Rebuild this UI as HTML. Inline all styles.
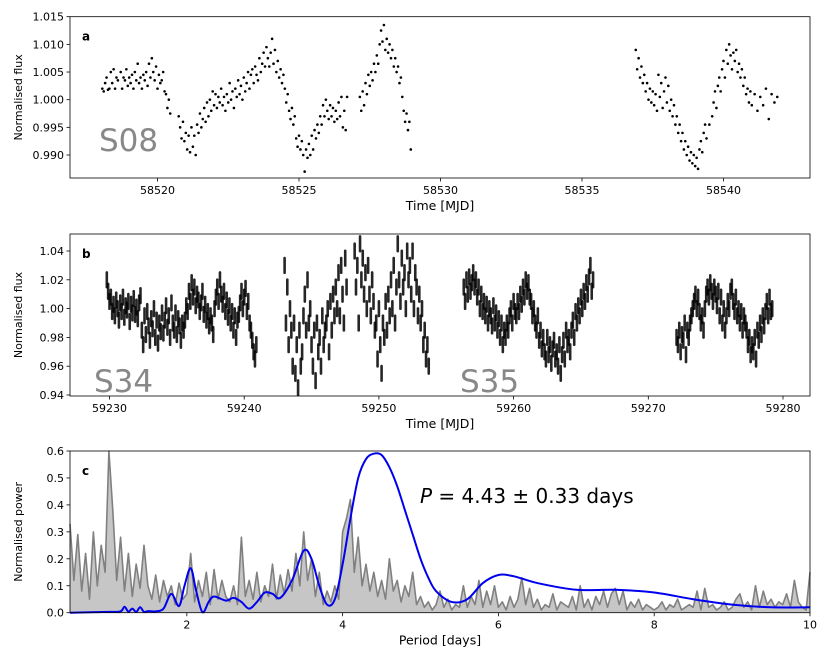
<!DOCTYPE html>
<html><head><meta charset="utf-8">
<style>
body{margin:0;background:#fff;}
svg{display:block;font-family:"DejaVu Sans","Liberation Sans",sans-serif;}
</style></head>
<body>
<svg id="fig" width="830" height="664" viewBox="0 0 830 664">
<defs><clipPath id="clipB"><rect x="70" y="234" width="740" height="162"/></clipPath></defs>
</svg>
<script>
// ---------- Panel a data (time offset from tBaseA, flux) ----------
const tBaseA = 58500;
const fluxA = [[18.05,1.002],[18.1,1.0015],[18.15,1.003],[18.2,1.004],[18.25,1.0018],[18.3,1.002],[18.35,1.005],[18.4,1.003],[18.45,1.0055],[18.5,1.002],[18.55,1.004],[18.6,1.0035],[18.7,1.005],[18.75,1.002],[18.8,1.004],[18.85,1.0035],[18.9,1.0055],[18.95,1.0025],[19.0,1.004],[19.05,1.003],[19.1,1.0045],[19.15,1.002],[19.2,1.005],[19.25,1.0035],[19.3,1.0065],[19.35,1.003],[19.4,1.004],[19.45,1.002],[19.5,1.0045],[19.55,1.0035],[19.6,1.005],[19.65,1.0025],[19.7,1.0065],[19.75,1.004],[19.8,1.0075],[19.85,1.005],[19.9,1.0035],[19.95,1.006],[20.0,1.002],[20.05,1.0045],[20.1,1.003],[20.15,1.0035],[20.2,1.005],[20.25,1.0015],[20.3,1.001],[20.35,0.9985],[20.4,1.000],[20.45,0.9975],
[20.75,0.997],[20.8,0.995],[20.85,0.993],[20.9,0.996],[20.95,0.9925],[21.0,0.994],[21.05,0.991],[21.1,0.9935],[21.15,0.9905],[21.2,0.995],[21.25,0.9915],[21.3,0.9935],[21.35,0.990],[21.4,0.9955],[21.45,0.994],[21.5,0.9975],[21.55,0.995],[21.6,0.9965],
[21.65,0.9985],[21.7,0.996],[21.75,0.9995],[21.8,0.997],[21.85,1.000],[21.9,0.998],[21.95,1.0015],[22.0,0.999],[22.05,1.001],[22.1,0.9985],[22.15,1.0005],[22.2,0.9995],[22.25,1.002],[22.3,0.999],[22.35,1.0005],[22.4,0.998],[22.45,1.001],[22.5,0.9995],[22.55,1.003],[22.6,1.000],[22.65,1.0015],[22.7,0.9985],[22.75,1.002],[22.8,1.0005],[22.85,1.0035],[22.9,1.001],[22.95,1.0025],[23.0,1.000],[23.05,1.004],[23.1,1.0015],[23.15,1.003],[23.2,1.005],[23.25,1.002],[23.3,1.0045],[23.35,1.0055],[23.4,1.003],[23.45,1.006],[23.5,1.0045],[23.55,1.0035],[23.6,1.0075],[23.65,1.005],[23.7,1.0065],[23.75,1.0085],[23.8,1.006],[23.85,1.0095],[23.9,1.0075],[23.95,1.006],[24.0,1.0085],[24.05,1.011],[24.1,1.0065],[24.15,1.009],[24.2,1.005],[24.25,1.007],[24.3,1.004],[24.35,1.0055],[24.4,1.003],[24.45,1.0045],[24.5,1.002],[24.55,0.9995],[24.6,1.001],[24.65,0.998],[24.7,0.9965],[24.75,0.9985],[24.8,0.9955],[24.85,0.997],[24.9,0.993],
[24.95,0.9915],[25.0,0.9935],[25.05,0.991],[25.1,0.9925],[25.15,0.990],[25.2,0.987],[25.25,0.991],[25.3,0.9895],[25.35,0.992],[25.4,0.990],[25.45,0.9935],[25.5,0.991],[25.55,0.9945],[25.6,0.993],[25.65,0.9955],[25.7,0.994],[25.75,0.997],[25.8,0.9955],[25.85,0.999],[25.9,0.997],[25.95,1.000],[26.0,0.998],[26.05,0.9965],[26.1,0.999],[26.15,0.997],[26.2,0.9985],[26.25,0.996],[26.3,0.998],[26.35,0.9965],[26.4,0.9995],[26.45,0.997],[26.5,1.0005],[26.55,0.995],[26.6,0.998],[26.65,0.9945],[26.7,1.0005],
[27.15,1.0005],[27.2,0.998],[27.25,1.0015],[27.3,0.999],[27.35,1.003],[27.4,1.001],[27.45,1.0045],[27.5,1.0025],[27.55,1.005],[27.6,1.0035],[27.65,1.0065],[27.7,1.005],[27.75,1.008],[27.8,1.0065],[27.85,1.010],[27.9,1.0125],[27.95,1.0105],[28.0,1.0135],[28.05,1.009],[28.1,1.011],[28.15,1.0085],[28.2,1.010],[28.25,1.0075],[28.3,1.009],[28.35,1.006],[28.4,1.0075],[28.45,1.005],[28.5,1.006],[28.55,1.003],[28.6,1.004],[28.65,1.0005],[28.7,0.998],[28.75,0.996],[28.8,0.9975],[28.85,0.9945],[28.9,0.996],[28.95,0.991],
[36.9,1.009],[36.95,1.0055],[37.0,1.0075],[37.05,1.004],[37.1,1.006],[37.15,1.003],[37.2,1.0045],[37.25,1.0015],[37.3,1.003],[37.35,1.000],[37.4,1.002],[37.45,0.9995],[37.5,1.0015],[37.55,0.999],[37.6,1.001],[37.65,0.998],[37.7,1.0045],[37.75,1.0005],[37.8,1.003],[37.85,0.9985],[37.9,1.0015],[37.95,1.004],[38.0,0.9995],[38.05,1.0025],[38.1,0.998],[38.15,1.000],[38.2,0.997],[38.25,0.999],[38.3,0.9955],[38.35,0.997],[38.4,0.994],[38.45,0.9955],[38.5,0.9925],[38.55,0.994],[38.6,0.991],[38.65,0.9925],[38.7,0.990],[38.75,0.9915],[38.8,0.989],[38.85,0.9905],[38.9,0.9885],[38.95,0.990],[39.0,0.988],[39.05,0.9895],[39.1,0.9875],[39.15,0.991],[39.2,0.9925],[39.25,0.9905],[39.3,0.994],[39.35,0.9955],[39.4,0.993],[39.5,0.9955],[39.6,0.997],[39.65,0.9995],[39.7,1.0015],[39.75,0.9985],[39.8,1.0025],[39.85,1.004],[39.9,1.0015],[39.95,1.0055],[40.0,1.007],[40.05,1.004],[40.1,1.009],[40.15,1.0065],[40.2,1.010],[40.25,1.008],[40.3,1.0055],[40.35,1.0085],[40.4,1.007],[40.45,1.009],[40.5,1.005],[40.55,1.0065],[40.6,1.004],[40.65,1.0055],[40.7,1.0025],[40.75,1.004],[40.8,1.001],[40.85,1.002],[40.9,0.9995],[40.95,1.0015],[41.0,0.999],[41.1,1.001],[41.2,0.998],[41.3,1.0005],[41.4,0.999],[41.5,1.002],[41.6,0.9965],[41.7,1.001],[41.8,0.9995],[41.9,1.0005]];
const ticksAX = [58520,58525,58530,58535,58540];
const ticksAY = [0.990,0.995,1.000,1.005,1.010,1.015];

// ---------- Panel b data (segments: start time, cadence, fluxes) ----------
const cadenceB = 0.1;
const scatterB = 0.006; // half-width of the point cloud around each sample
const segStartsB = [59229.8, 59243.0, 59248.2, 59256.3, 59272.1];
const segFluxB1 = [1.02,1.012,1.005,1.008,0.998,1.003,0.995,1.006,1.0,0.992,1.004,0.998,1.008,0.994,1.002,0.999,1.005,0.991,1.003,0.997,1.007,0.996,1.001,0.993,1.004,1.009,0.985,0.975,0.995,0.982,0.998,0.988,0.978,0.993,0.986,1.0,0.98,0.992,0.976,0.99,0.984,0.997,0.983,0.992,1.002,0.987,0.995,0.98,1.004,0.99,0.985,0.997,0.982,0.993,0.988,0.978,0.99,0.985,0.992,1.002,0.998,1.012,1.005,1.018,1.008,1.015,1.002,1.01,1.006,0.998,1.004,1.012,0.996,1.003,0.992,0.998,0.988,0.995,0.99,0.982,1.0,1.008,1.015,1.005,1.02,1.01,1.003,1.012,0.998,1.006,0.994,1.002,0.99,0.998,0.985,0.995,0.98,0.992,0.996,1.004,1.012,1.0,1.008,1.014,0.998,1.005,0.99,0.985,0.978,0.97,0.965,0.975];
const segFluxB2 = [1.03,0.99,1.015,0.975,1.0,0.985,0.96,0.99,0.955,0.975,0.945,0.985,0.96,0.97,0.995,1.01,0.985,1.02,0.99,1.0,0.975,0.96,0.985,0.95,0.99,0.97,0.98,0.96,0.995,0.975,0.985,0.99,1.0,0.97,1.005,0.985,1.01,0.995,1.015,1.0,1.025,0.995,1.03,1.01,0.99,1.035,1.015];
const segFluxB3 = [1.04,1.015,1.03,0.99,1.045,1.02,1.035,1.01,1.025,1.0,1.03,1.01,0.995,1.02,1.005,0.985,0.99,0.965,1.0,0.975,0.955,0.99,0.98,1.005,0.985,1.01,0.995,1.02,1.0,1.03,0.99,1.015,1.045,1.02,1.005,1.035,1.015,1.025,1.0,1.04,1.02,1.03,1.01,1.04,1.0,1.025,1.015,0.995,1.01,0.99,1.0,0.975,0.985,0.965,0.975,0.96];
const segFluxB4 = [1.015,1.005,1.02,1.01,1.022,1.012,1.018,1.025,1.015,1.02,1.008,1.015,1.0,1.01,0.998,1.005,0.995,1.003,0.99,1.0,0.995,0.988,1.002,0.99,0.997,0.985,0.993,0.98,0.99,0.975,0.985,0.98,0.99,0.985,0.995,1.0,0.99,1.005,0.998,0.995,1.005,0.998,1.01,1.003,1.015,1.008,1.02,1.012,1.018,1.008,1.005,0.995,1.0,0.99,0.985,0.995,0.978,0.985,0.972,0.98,0.97,0.965,0.98,0.968,0.975,0.962,0.972,0.978,0.965,0.97,0.96,0.975,0.955,0.968,0.978,0.965,0.985,0.975,0.98,0.97,0.985,0.992,0.98,0.998,0.99,1.002,0.995,1.008,1.0,1.012,1.005,1.018,1.01,1.022,1.03,1.012,1.02];
const segFluxB5 = [0.98,0.975,0.985,0.97,0.982,0.978,0.99,0.968,0.985,0.98,0.99,0.995,1.0,1.005,1.01,1.0,1.008,0.998,0.99,0.995,0.985,1.0,1.01,1.015,1.008,1.018,1.012,1.005,1.015,1.01,1.002,1.012,0.995,1.008,0.99,1.0,0.985,0.995,1.005,1.0,1.012,1.015,1.005,0.998,1.008,0.995,1.0,0.99,0.998,0.985,0.995,0.99,0.985,0.975,0.98,0.968,0.975,0.97,0.98,0.965,0.985,0.978,0.99,0.982,0.995,0.988,0.998,1.005,0.995,1.008,0.998,1.0];
const ticksBX = [59230,59240,59250,59260,59270,59280];
const ticksBY = [0.94,0.96,0.98,1.00,1.02,1.04];

// ---------- Panel c data ----------
const grayPeriodStart = 0.5, grayPeriodStep = 0.05;
const grayPower = [.33,.12,.29,.08,.22,.05,.30,.10,.25,.15,.60,
.38,.12,.28,.08,.22,.06,.18,.09,.25,.10,
.05,.14,.04,.12,.06,.10,.03,.11,.05,.07,
.22,.04,.12,.06,.15,.03,.16,.05,.12,.06,
.04,.10,.03,.28,.06,.12,.05,.15,.04,.10,
.06,.18,.05,.14,.07,.16,.08,.22,.10,.30,
.12,.20,.06,.15,.03,.08,.04,.10,.05,.30,
.35,.42,.15,.28,.10,.18,.08,.15,.06,.12,
.05,.20,.08,.12,.04,.10,.06,.15,.03,.06,
.02,.04,.01,.03,.08,.02,.05,.01,.03,.02,
.10,.02,.06,.03,.12,.02,.08,.03,.10,.02,
.04,.01,.06,.02,.05,.13,.03,.09,.02,.05,
.01,.03,.02,.07,.01,.04,.03,.02,.06,.01,
.10,.02,.05,.01,.06,.03,.08,.02,.07,.09,
.03,.08,.01,.04,.02,.05,.01,.03,.02,.01,
.02,.04,.01,.03,.02,.05,.01,.02,.03,.02,
.08,.01,.09,.02,.03,.01,.02,.04,.01,.02,
.05,.07,.02,.04,.01,.10,.02,.08,.03,.05,
.02,.04,.03,.07,.02,.12,.04,.02,.01,.15];
const bluePeriods = [0.5,1.0,1.15,1.2,1.25,1.3,1.35,1.4,1.45,1.5,1.6,1.7,1.8,1.9,1.97,2.05,2.12,2.2,2.28,2.35,2.5,2.6,2.7,2.8,2.9,3.0,3.1,3.2,3.35,3.5,3.6,3.7,3.8,3.9,4.0,4.1,4.2,4.3,4.4,4.5,4.6,4.7,4.8,4.9,5.0,5.1,5.2,5.4,5.6,5.8,6.0,6.2,6.5,7.0,7.5,8.0,8.5,9.0,9.5,10.0];
const bluePower = [0.0,0.003,0.005,0.022,0.004,0.015,0.003,0.02,0.003,0.006,0.005,0.015,0.07,0.025,0.1,0.165,0.08,0.002,0.04,0.06,0.045,0.055,0.04,0.015,0.04,0.075,0.07,0.055,0.12,0.23,0.2,0.1,0.03,0.05,0.18,0.35,0.5,0.57,0.59,0.585,0.54,0.47,0.38,0.29,0.2,0.13,0.08,0.04,0.05,0.11,0.14,0.135,0.11,0.085,0.085,0.075,0.05,0.03,0.02,0.02];
const ticksCX = [2,4,6,8,10];
const ticksCY = [0.0,0.1,0.2,0.3,0.4,0.5,0.6];

// ---------- helpers ----------
const NS = "http://www.w3.org/2000/svg";
const svg = document.getElementById('fig');
function mk(tag, attrs, parent){const e=document.createElementNS(NS,tag);for(const k in attrs)e.setAttribute(k,attrs[k]);(parent||svg).appendChild(e);return e;}
function scale(d0,d1,r0,r1){return v=>r0+(v-d0)/(d1-d0)*(r1-r0);}
const L=70,R=810;

const axA = scale(58520,58540,157.5,723.5);
const ayA = scale(0.990,1.015,155,16.7);
const axB = scale(59230,59280,109.5,783);
const ayB = scale(0.94,1.04,395,251);
const axC = scale(0.5,10,70,810);
const ayC = scale(0,0.6,612.7,451);

function axes(name, top, bot, xt, yt, ax, ay, xfmt, yfmt, xlabel, ylabel, letter){
  const g = mk('g',{});
  
  
  xt.forEach(v=>{const x=ax(v);
    const t=mk('line',{x1:x,x2:x,y1:bot,y2:bot+3.5,stroke:'#000','stroke-width':0.8},g);
    
    
    const l=mk('text',{x:x,y:bot+16,'font-size':11,'text-anchor':'middle',fill:'#000'},g);l.textContent=xfmt(v);
    
    
  });
  yt.forEach(v=>{const y=ay(v);
    const t=mk('line',{x1:L-3.5,x2:L,y1:y,y2:y,stroke:'#000','stroke-width':0.8},g);
    
    
    const l=mk('text',{x:L-6,y:y+4,'font-size':11,'text-anchor':'end',fill:'#000'},g);l.textContent=yfmt(v);
    
    
  });
  const xl=mk('text',{x:440,y:bot+32,'font-size':12.5,'text-anchor':'middle'},g);xl.textContent=xlabel;
  
  
  const cy=(top+bot)/2;
  const yl=mk('text',{x:0,y:0,'font-size':11,'text-anchor':'middle',transform:`translate(22,${cy}) rotate(-90)`},g);yl.textContent=ylabel;
  
  
  const pl=mk('text',{x:82,y:top+24,'font-size':12,'font-weight':'bold'},g);pl.textContent=letter;
  
  
  return g;
}
function frame(top,bot){
  const r=mk('rect',{x:L,y:top,width:R-L,height:bot-top,fill:'none',stroke:'#000','stroke-width':0.8});
  
  
}

// ---------- Panel a ----------
axes('panel-a-axes',16.7,178,ticksAX,ticksAY,axA,ayA,v=>String(v),v=>v.toFixed(3),'Time [MJD]','Normalised flux','a');
const s08=mk('text',{x:99,y:151,'font-size':31,fill:'#888'});s08.textContent='S08';


const gA=mk('g',{fill:'#000'});


fluxA.forEach(p=>{const c=mk('circle',{cx:axA(tBaseA+p[0]),cy:ayA(p[1]),r:1.3},gA);
  
  });
frame(16.7,178);

// ---------- Panel b ----------
axes('panel-b-axes',234,396,ticksBX,ticksBY,axB,ayB,v=>String(v),v=>v.toFixed(2),'Time [MJD]','Normalised flux','b');
const s34=mk('text',{x:94,y:392,'font-size':31,fill:'#888'});s34.textContent='S34';


const s35=mk('text',{x:460,y:392,'font-size':31,fill:'#888'});s35.textContent='S35';


const gB=mk('g',{fill:'#000','clip-path':'url(#clipB)'});


[segFluxB1,segFluxB2,segFluxB3,segFluxB4,segFluxB5].forEach((seg,si)=>{
  seg.forEach((f,i)=>{const t=segStartsB[si]+i*cadenceB;
    const y1=ayB(f+scatterB), y2=ayB(f-scatterB);
    const c=mk('rect',{x:axB(t)-1.3,y:y1,width:2.6,height:y2-y1,rx:1.3,'fill-opacity':0.85},gB);
    
    
  });
});
frame(234,396);

// ---------- Panel c ----------
axes('panel-c-axes',451,612.7,ticksCX,ticksCY,axC,ayC,v=>String(v),v=>v.toFixed(1),'Period [days]','Normalised power','c');
let gd='';
grayPower.forEach((v,i)=>{const p=grayPeriodStart+i*grayPeriodStep;gd+=(i?'L':'M')+axC(p).toFixed(1)+','+ayC(v).toFixed(1);});
const gfill=mk('path',{d:gd+`L${axC(grayPeriodStart+(grayPower.length-1)*grayPeriodStep)},${ayC(0)}L${axC(grayPeriodStart)},${ayC(0)}Z`,fill:'#808080','fill-opacity':0.45,stroke:'none'});


const gp=mk('path',{d:gd,fill:'none',stroke:'#808080','stroke-width':1.6,'stroke-linejoin':'round'});


const bp=bluePeriods.map((p,i)=>[axC(p),ayC(bluePower[i])]);
let bd='M'+bp[0][0]+','+bp[0][1];
for(let i=0;i<bp.length-1;i++){const p0=bp[Math.max(0,i-1)],p1=bp[i],p2=bp[i+1],p3=bp[Math.min(bp.length-1,i+2)];
  bd+=`C${p1[0]+(p2[0]-p0[0])/6},${p1[1]+(p2[1]-p0[1])/6} ${p2[0]-(p3[0]-p1[0])/6},${p2[1]-(p3[1]-p1[1])/6} ${p2[0]},${p2[1]}`;}
const blp=mk('path',{d:bd,fill:'none',stroke:'#0000ee','stroke-width':2});


const pt=mk('text',{x:420,y:503,'font-size':20});
pt.innerHTML='<tspan font-style="italic">P</tspan> = 4.43 ± 0.33 days';


frame(451,612.7);
</script>
</body></html>
